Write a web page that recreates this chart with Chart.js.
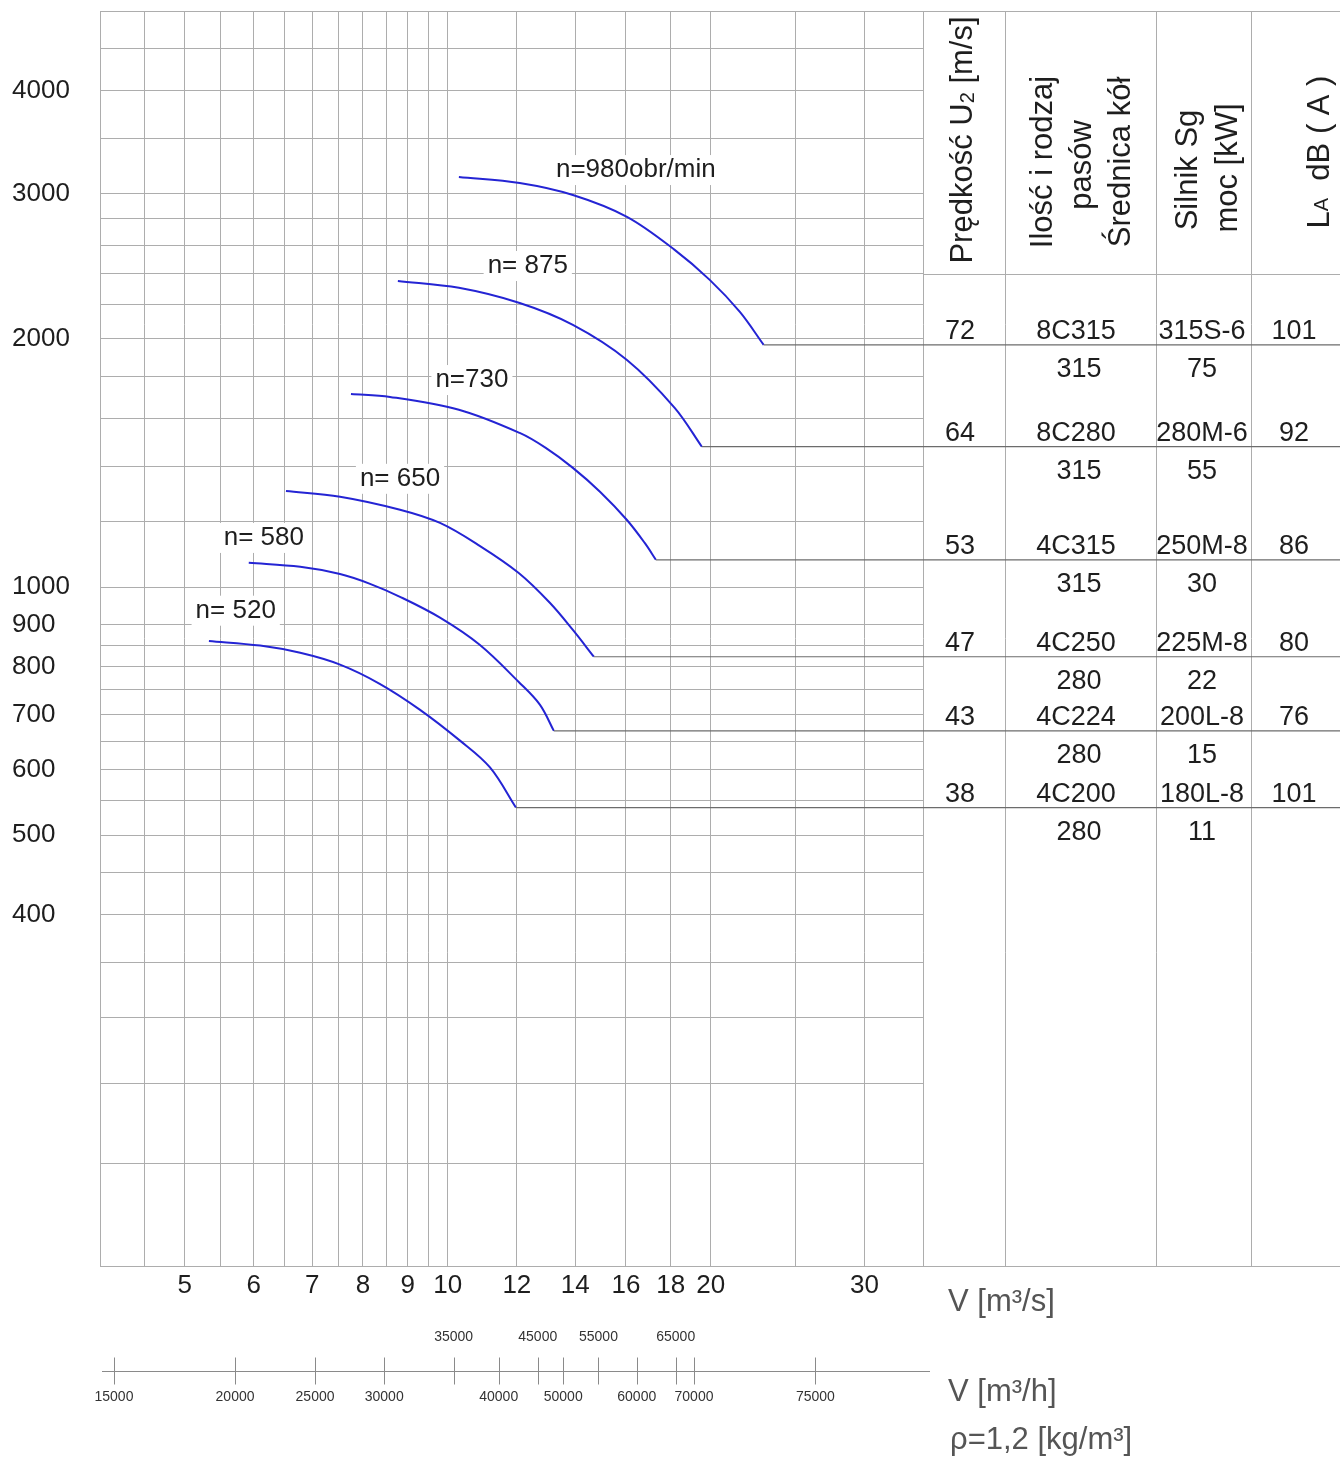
<!DOCTYPE html>
<html>
<head>
<meta charset="utf-8">
<title>Charakterystyka wentylatora</title>
<script src="https://cdn.jsdelivr.net/npm/chart.js@4.4.1/dist/chart.umd.min.js"></script>
<style>
  html, body { margin: 0; padding: 0; background: #fff; }
  canvas { display: block; }
</style>
</head>
<body>
<canvas id="fanChart" width="1340" height="1457"></canvas>
<script>
// speed curves, V [m3/s] on x and pressure on y
const speeds = [980, 875, 730, 650, 580, 520];
const flow980 = [10.3, 12.09, 13.91, 16.04, 18.19, 19.95, 21.6, 23.0];
const press980 = [3145, 3092, 2990, 2813, 2565, 2359, 2157, 1967];
const flow875 = [8.77, 10.3, 12.09, 13.91, 16.04, 18.19, 19.54];
const press875 = [2352, 2307, 2211, 2080, 1886, 1650, 1480];
const flow730 = [7.75, 8.59, 10.3, 12.09, 12.95, 13.91, 14.94, 16.04, 16.81, 17.31];
const press730 = [1715, 1701, 1641, 1538, 1475, 1395, 1305, 1206, 1131, 1079];
const flow650 = [6.53, 7.53, 8.82, 9.8, 10.88, 12.06, 13.09, 13.91, 14.7];
const press650 = [1308, 1287, 1241, 1196, 1122, 1040, 957, 887, 823];
const flow580 = [5.92, 6.78, 7.53, 8.15, 8.82, 9.8, 10.88, 12.06, 12.75, 13.23];
const press580 = [1070, 1058, 1037, 1009, 973, 918, 851, 767, 720, 669];
const flow520 = [5.33, 6.1, 6.78, 7.53, 8.36, 9.29, 10.33, 11.18, 11.97];
const press520 = [860, 849, 832, 805, 763, 710, 651, 604, 540];

// curve captions
const labelText = ['n=980obr/min', 'n= 875', 'n=730', 'n= 650', 'n= 580', 'n= 520'];
const labelFlow = [16.42, 12.35, 10.66, 8.82, 6.16, 5.72];
const labelPress = [3206, 2452, 1783, 1353, 1147, 936];

// table on the right, one row per speed
const speedU2 = [72, 64, 53, 47, 43, 38];
const belts = ['8C315', '8C280', '4C315', '4C250', '4C224', '4C200'];
const pulley = [315, 315, 315, 280, 280, 280];
const motor = ['315S-6', '280M-6', '250M-8', '225M-8', '200L-8', '180L-8'];
const power = [75, 55, 30, 22, 15, 11];
const noise = [101, 92, 86, 80, 76, 101];

// axes
const flowGrid = [4, 4.5, 5, 5.5, 6, 6.5, 7, 7.5, 8, 8.5, 9, 9.5, 10, 12, 14, 16, 18, 20, 25, 30, 35];
const flowLabels = [5, 6, 7, 8, 9, 10, 12, 14, 16, 18, 20, 30];
const pressGrid = [150, 200, 250, 300, 350, 400, 450, 500, 550, 600, 650, 700, 750, 800, 850, 900, 1000,
  1200, 1400, 1600, 1800, 2000, 2200, 2400, 2600, 2800, 3000, 3500, 4000, 4500, 5000];
const pressLabels = [400, 500, 600, 700, 800, 900, 1000, 2000, 3000, 4000];
const headerBottom = 2400;

// V [m3/h] ruler: labels and where each tick sits on the V [m3/s] scale
const hourTicks = [15000, 20000, 25000, 30000, 35000, 40000, 45000, 50000, 55000, 60000, 65000, 70000, 75000];
const hourTickAt = [4.15, 5.71, 7.05, 8.46, 10.16, 11.44, 12.68, 13.56, 14.88, 16.46, 18.24, 19.14, 26.36];
const hourAbove = [35000, 45000, 55000, 65000];

const flows = [flow980, flow875, flow730, flow650, flow580, flow520];
const presses = [press980, press875, press730, press650, press580, press520];

const FONT = '"Liberation Sans", Arial, sans-serif';
const gridColor = '#adadad';
const rowColor = '#6c6c6c';

const datasets = [];
speeds.forEach((n, i) => {
  const f = flows[i], p = presses[i];
  const last = f.length - 1;
  datasets.push({
    label: 'poziom ' + n,
    data: [{ x: f[last], y: p[last] }, { x: flowGrid[flowGrid.length - 1], y: p[last] }],
    borderColor: rowColor,
    borderWidth: 1.2,
    pointRadius: 0,
    tension: 0
  });
});
speeds.forEach((n, i) => {
  datasets.push({
    label: 'n=' + n,
    data: flows[i].map((v, j) => ({ x: v, y: presses[i][j] })),
    borderColor: '#2424d4',
    borderWidth: 2,
    pointRadius: 0,
    tension: 0.35
  });
});

function vText(ctx, str, cx, cy) {
  ctx.save();
  ctx.translate(cx, cy);
  ctx.rotate(-Math.PI / 2);
  ctx.textAlign = 'center';
  ctx.textBaseline = 'middle';
  ctx.fillText(str, 0, 0);
  ctx.restore();
}

// vertical text made of pieces: [text, font, baseline shift]
function vPieces(ctx, parts, cx, cy) {
  ctx.save();
  ctx.translate(cx, cy);
  ctx.rotate(-Math.PI / 2);
  ctx.textAlign = 'left';
  ctx.textBaseline = 'middle';
  let total = 0;
  parts.forEach(p => { ctx.font = p[1]; total += ctx.measureText(p[0]).width; });
  let sx = -total / 2;
  parts.forEach(p => {
    ctx.font = p[1];
    ctx.fillText(p[0], sx, p[2]);
    sx += ctx.measureText(p[0]).width;
  });
  ctx.restore();
}

const nomogramExtras = {
  id: 'nomogramExtras',
  beforeDatasetsDraw(chart) {
    const { ctx, scales: { x, y } } = chart;
    ctx.save();
    ctx.font = '26px ' + FONT;
    ctx.textAlign = 'center';
    ctx.textBaseline = 'middle';
    labelText.forEach((t, i) => {
      const px = x.getPixelForValue(labelFlow[i]);
      const py = y.getPixelForValue(labelPress[i]);
      const w = ctx.measureText(t).width;
      ctx.fillStyle = '#fff';
      ctx.fillRect(px - w / 2 - 4, py - 15, w + 8, 30);
      ctx.fillStyle = '#1e1e1e';
      ctx.fillText(t, px, py);
    });
    ctx.restore();
  },
  afterDraw(chart) {
    const { ctx, chartArea: area, scales: { x, y } } = chart;
    const left = area.right, right = chart.width;
    const cols = [left, left + 82, left + 233, left + 328, right];

    ctx.save();
    // table frame
    ctx.strokeStyle = gridColor;
    ctx.lineWidth = 1;
    ctx.beginPath();
    for (let c = 1; c < cols.length - 1; c++) {
      ctx.moveTo(cols[c] + 0.5, area.top);
      ctx.lineTo(cols[c] + 0.5, area.bottom);
    }
    ctx.moveTo(left, area.top + 0.5);
    ctx.lineTo(right, area.top + 0.5);
    ctx.moveTo(left, area.bottom + 0.5);
    ctx.lineTo(right, area.bottom + 0.5);
    const hy = Math.round(y.getPixelForValue(headerBottom)) + 0.5;
    ctx.moveTo(left, hy);
    ctx.lineTo(right, hy);
    ctx.stroke();

    // row lines continue the curve end levels
    ctx.strokeStyle = rowColor;
    ctx.lineWidth = 1.2;
    ctx.beginPath();
    presses.forEach(p => {
      const ry = y.getPixelForValue(p[p.length - 1]);
      ctx.moveTo(left, ry);
      ctx.lineTo(right, ry);
    });
    ctx.stroke();

    // header
    ctx.fillStyle = '#1e1e1e';
    const big = '31px ' + FONT;
    const small = '20px ' + FONT;
    vPieces(ctx, [['Prędkość U', big, 0], ['2', small, 5], [' [m/s]', big, 0]], left + 40, 140);
    ctx.font = big;
    vText(ctx, 'Ilość i rodzaj', left + 120, 162);
    vText(ctx, 'pasów', left + 159, 165);
    vText(ctx, 'Średnica kół', left + 198, 162);
    vText(ctx, 'Silnik Sg', left + 265, 170);
    vText(ctx, 'moc [kW]', left + 305, 168);
    vPieces(ctx, [['L', big, 0], ['A', small, 2], ['  dB ( A )', big, 0]], left + 397, 152);

    // body
    ctx.font = '27px ' + FONT;
    ctx.textAlign = 'center';
    ctx.textBaseline = 'middle';
    const cx = [left + 37, left + 153, left + 279, left + 371];
    presses.forEach((p, i) => {
      const ry = y.getPixelForValue(p[p.length - 1]);
      ctx.fillText(String(speedU2[i]), cx[0], ry - 13);
      ctx.fillText(belts[i], cx[1], ry - 13);
      ctx.fillText(motor[i], cx[2], ry - 13);
      ctx.fillText(String(noise[i]), cx[3], ry - 13);
      ctx.fillText(String(pulley[i]), cx[1] + 3, ry + 25);
      ctx.fillText(String(power[i]), cx[2], ry + 25);
    });

    // V [m3/h] ruler
    const rulerY = area.bottom + 105.5;
    ctx.strokeStyle = '#8a8a8a';
    ctx.lineWidth = 1;
    ctx.beginPath();
    ctx.moveTo(area.left + 2, rulerY);
    ctx.lineTo(area.right + 7, rulerY);
    hourTickAt.forEach(v => {
      const px = Math.round(x.getPixelForValue(v)) + 0.5;
      ctx.moveTo(px, rulerY - 14);
      ctx.lineTo(px, rulerY + 13);
    });
    ctx.stroke();
    ctx.fillStyle = '#333';
    ctx.font = '14px ' + FONT;
    hourTicks.forEach((h, i) => {
      const px = x.getPixelForValue(hourTickAt[i]);
      const ly = hourAbove.includes(h) ? rulerY - 34 : rulerY + 26;
      ctx.fillText(String(h), px, ly);
    });

    // units
    ctx.fillStyle = '#555';
    ctx.font = '31px ' + FONT;
    ctx.textAlign = 'left';
    ctx.fillText('V [m³/s]', left + 25, area.bottom + 36);
    ctx.fillText('V [m³/h]', left + 25, area.bottom + 126);
    ctx.fillText('ρ=1,2 [kg/m³]', left + 27, area.bottom + 174);
    ctx.restore();
  }
};

new Chart(document.getElementById('fanChart'), {
  type: 'line',
  data: { datasets: datasets },
  options: {
    responsive: false,
    animation: false,
    layout: { padding: { left: 12, top: 11, right: 417, bottom: 0 } },
    plugins: {
      legend: { display: false },
      tooltip: { enabled: false }
    },
    scales: {
      x: {
        type: 'logarithmic',
        min: 4,
        max: 35,
        afterBuildTicks: s => { s.ticks = flowGrid.map(v => ({ value: v })); },
        afterFit: s => { s.height = 191; s.paddingLeft = 0; s.paddingRight = 0; },
        grid: { color: gridColor, lineWidth: 1, drawTicks: false },
        border: { color: gridColor },
        ticks: {
          autoSkip: false,
          maxRotation: 0,
          padding: 4,
          color: '#1e1e1e',
          font: { family: FONT, size: 26 },
          callback: v => flowLabels.includes(v) ? String(v) : ''
        }
      },
      y: {
        type: 'logarithmic',
        min: 150,
        max: 5000,
        afterBuildTicks: s => { s.ticks = pressGrid.map(v => ({ value: v })); },
        afterFit: s => { s.width = 88; s.paddingTop = 0; s.paddingBottom = 0; },
        grid: { color: gridColor, lineWidth: 1, drawTicks: false },
        border: { color: gridColor },
        ticks: {
          autoSkip: false,
          crossAlign: 'far',
          padding: 0,
          color: '#1e1e1e',
          font: { family: FONT, size: 26 },
          callback: v => pressLabels.includes(v) ? String(v) : ''
        }
      }
    }
  },
  plugins: [nomogramExtras]
});
</script>
</body>
</html>
